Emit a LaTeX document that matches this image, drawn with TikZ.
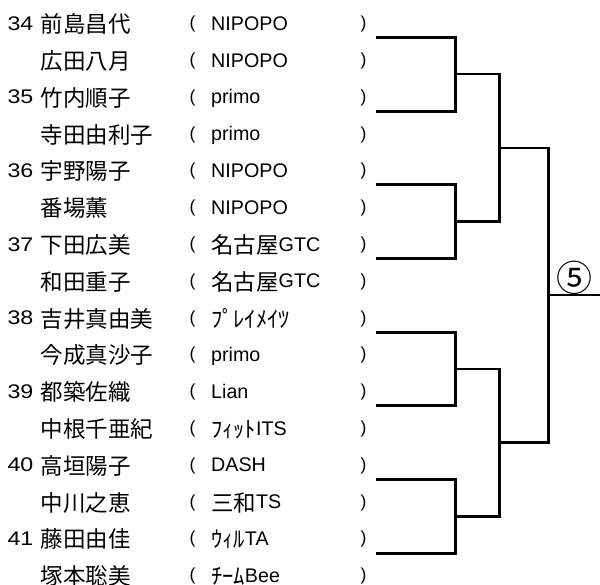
\documentclass[tikz,border=0pt]{standalone}
\usepackage{fontspec}
\setmainfont{Liberation Sans}
\newfontfamily\jpfont{Noto Sans CJK JP}
\newfontfamily\numfont[FakeStretch=1.18]{Liberation Sans}
\newcommand\jt[1]{\raisebox{-2.5pt}{\jpfont\fontsize{22.5}{24}\selectfont #1}}
\newcommand\myl{\raisebox{1.5pt}{\fontsize{17.5}{18}\selectfont (}}
\newcommand\myr{\raisebox{1.5pt}{\fontsize{17.5}{18}\selectfont )}}
\tikzset{
  txt/.style={anchor=base west, inner sep=0pt, font=\fontsize{19.7}{21}\selectfont},
  lone/.style={line width=3pt, line join=miter},
  ltwo/.style={line width=2.6pt, line join=miter},
  lout/.style={line width=2.2pt},
}
\begin{document}
\begin{tikzpicture}[x=1pt,y=-1pt]
\useasboundingbox (0,0) rectangle (600,584);
% rows
\foreach \k/\nm/\club [evaluate=\k as \yb using {30.2+(\k-1)*36.8}] in {
  1/前島昌代/NIPOPO,
  2/広田八月/NIPOPO,
  3/竹内順子/primo,
  4/寺田由利子/primo,
  5/宇野陽子/NIPOPO,
  6/番場薫/NIPOPO,
  7/下田広美/{\jt{名古屋}GTC},
  8/和田重子/{\jt{名古屋}GTC},
  9/吉井真由美/{\jt{ﾌﾟﾚｲﾒｲﾂ}},
  10/今成真沙子/primo,
  11/都築佐織/Lian,
  12/中根千亜紀/{\jt{ﾌｨｯﾄ}ITS},
  13/高垣陽子/DASH,
  14/中川之恵/{\jt{三和}TS},
  15/藤田由佳/{\jt{ｳｨﾙ}TA},
  16/塚本聡美/{\jt{ﾁｰﾑ}Bee}}{
  \node[txt] (nm\k) at (40.7,\yb) {\jt{\nm}};
  \node[txt] (lp\k) at (189.5,\yb) {\myl};
  \node[txt] (cl\k) at (211,\yb) {\club};
  \node[txt] (rp\k) at (360.5,\yb) {\myr};
}
% pair numbers
\foreach \k/\num [evaluate=\k as \yb using {30.2+(\k-1)*36.8}] in {1/34,3/35,5/36,7/37,9/38,11/39,13/40,15/41}{
  \node[txt] (no\k) at (7.3,\yb) {\numfont\num};
}
% bracket anchors
\foreach \j [evaluate=\j as \yy using {37.3+(\j-1)*73.7}] in {1,...,8}{
  \coordinate (p\j) at (376,\yy);
}
\coordinate (a1) at (455.7,74.15);
\coordinate (a2) at (455.7,221.55);
\coordinate (a3) at (455.7,368.95);
\coordinate (a4) at (455.7,516.35);
\coordinate (b1) at (499.3,147.85);
\coordinate (b2) at (499.3,442.65);
\coordinate (c1) at (548.3,295.25);
\coordinate (out) at (600,295.25);
% first round
\draw[lone] (p1) -| (a1) |- (p2);
\draw[lone] (p3) -| (a2) |- (p4);
\draw[lone] (p5) -| (a3) |- (p6);
\draw[lone] (p7) -| (a4) |- (p8);
% second round
\draw[ltwo] (a1) -| (b1) |- (a2);
\draw[ltwo] (a3) -| (b2) |- (a4);
% third round
\draw[ltwo] (b1) -| (c1) |- (b2);
\draw[lout] (c1) -- (out);
\node[inner sep=0pt, font=\jpfont\fontsize{36}{38}\selectfont] (r5) at (574.7,277.5) {⑤};
\end{tikzpicture}
\end{document}
